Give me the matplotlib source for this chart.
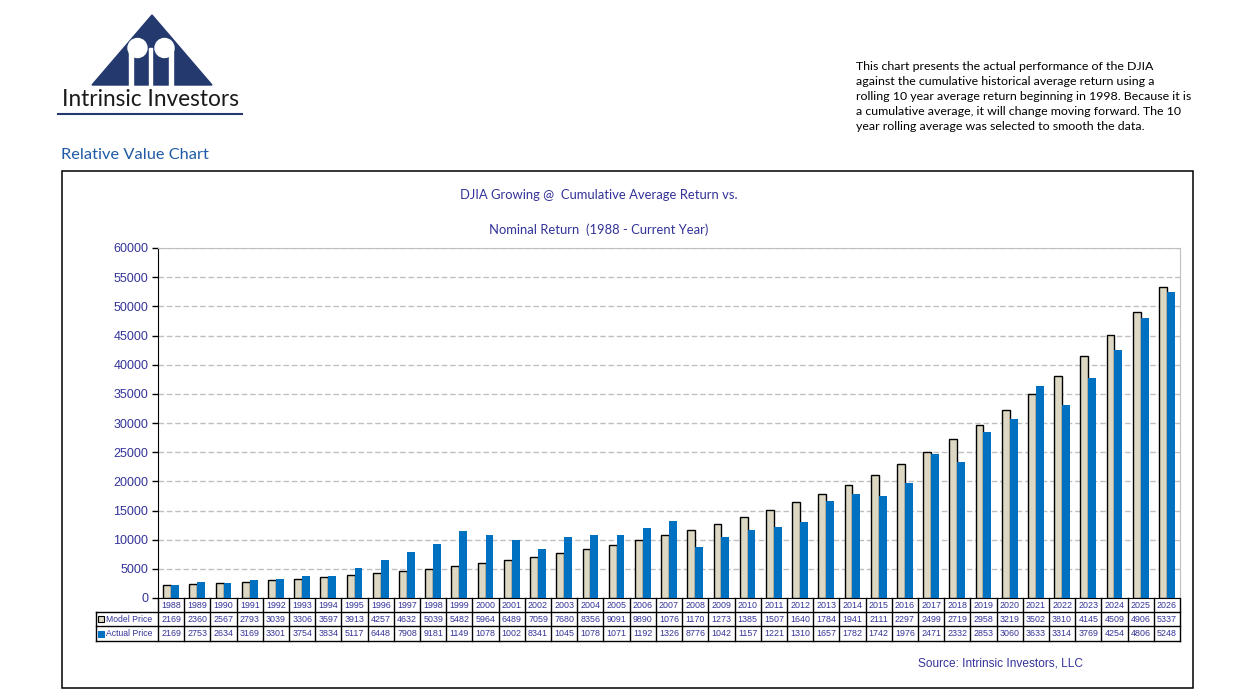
import matplotlib.pyplot as plt
import matplotlib.transforms as mtransforms
from matplotlib.patches import Polygon, Ellipse, Rectangle

years = list(range(1988, 2027))

model_price = [2169, 2360, 2567, 2793, 3039, 3306, 3597, 3913, 4257, 4632,
               5039, 5482, 5964, 6489, 7059, 7680, 8356, 9091, 9890, 10762,
               11705, 12734, 13853, 15072, 16405, 17843, 19412, 21115, 22972, 24993,
               27194, 29583, 32191, 35024, 38103, 41452, 45095, 49063, 53372]

actual_price = [2169, 2753, 2634, 3169, 3301, 3754, 3834, 5117, 6448, 7908,
                9181, 11497, 10787, 10021, 8341, 10453, 10783, 10717, 11920, 13264,
                8776, 10428, 11577, 12217, 13104, 16576, 17823, 17425, 19762, 24719,
                23327, 28538, 30606, 36338, 33147, 37690, 42544, 48068, 52480]

yticks = list(range(0, 60001, 5000))

title_lines = ["DJIA Growing @  Cumulative Average Return vs.",
               "Nominal Return  (1988 - Current Year)"]
note = ("This chart presents the actual performance of the DJIA\n"
        "against the cumulative historical average return using a\n"
        "rolling 10 year average return beginning in 1998. Because it is\n"
        "a cumulative average, it will change moving forward. The 10\n"
        "year rolling average was selected to smooth the data.")

W, H = 1247, 700
BEIGE = "#ddd8c4"
BLUE = "#0070c0"
TXT = "#333399"
NAVY = "#243a6e"


def fx(px):
    return px / W


def fy(py):
    return 1 - py / H


fig = plt.figure(figsize=(W / 100, H / 100), dpi=100)

# logo: triangle with two round dots and gaps between the stems
tri = Polygon([(fx(92), fy(85)), (fx(152), fy(15)), (fx(212), fy(85))],
              closed=True, transform=fig.transFigure, color=NAVY)
fig.patches.append(tri)
for cx in (137.5, 164.5):
    fig.patches.append(Ellipse((fx(cx), fy(48)), 19 / W, 19 / H,
                               transform=fig.transFigure, color="white"))
for x0, x1 in ((128.5, 132.5), (149, 152), (168.5, 172.5)):
    fig.patches.append(Rectangle((fx(x0), fy(86)), (x1 - x0) / W, 38 / H,
                                 transform=fig.transFigure, color="white"))
fig.text(fx(62), fy(100), "Intrinsic Investors", fontsize=16.3, family="Lato",
         color="#1a1a1a", va="center", ha="left")
fig.add_artist(plt.Line2D([fx(58), fx(242)], [fy(114), fy(114)], color=NAVY, lw=1.5))

fig.text(fx(61), fy(155), "Relative Value Chart", fontsize=11.8, family="Lato",
         color="#1f5aa6", va="center", ha="left")

fig.text(fx(856), fy(61), note, fontsize=8.9, family="Lato", color="black",
         va="top", ha="left", linespacing=1.44)

# chart frame
fig.patches.append(Rectangle((fx(62), fy(688)), (1193 - 62) / W, (688 - 171) / H,
                             transform=fig.transFigure, fill=False, ec="black", lw=1.1))

fig.text(fx(599), fy(195), title_lines[0], fontsize=9.4, family="Lato", color=TXT,
         ha="center", va="center")
fig.text(fx(599), fy(230), title_lines[1], fontsize=9.4, family="Lato", color=TXT,
         ha="center", va="center")
fig.text(fx(1001), fy(663), "Source: Intrinsic Investors, LLC", fontsize=8.6,
         family="Liberation Sans", color=TXT, ha="center", va="center")

ax = fig.add_axes([fx(158), fy(598), 1022 / W, 350 / H])
x = list(range(len(years)))
bw = 0.3
ax.bar([i - bw / 2 for i in x], model_price, width=bw, color=BEIGE,
       edgecolor="black", linewidth=1, zorder=3)
ax.bar([i + bw / 2 for i in x], actual_price, width=bw, color=BLUE,
       linewidth=0, zorder=3)

ax.set_xlim(-0.5, len(years) - 0.5)
ax.set_ylim(0, 60000)
ax.set_yticks(yticks)
ax.set_yticklabels([str(v) for v in yticks], fontsize=9, family="Liberation Sans",
                   color=TXT)
ax.tick_params(axis="y", length=4, width=1, pad=3, color="black")
ax.set_xticks([])
ax.yaxis.grid(True, linestyle=(0, (4, 2)), color="#c0c0c0", lw=1, zorder=0)
ax.set_axisbelow(True)
for side in ("top", "right"):
    ax.spines[side].set_color("#c0c0c0")
ax.spines["left"].set_color("black")
ax.spines["bottom"].set_color("black")

# data table under the plot
tr = mtransforms.blended_transform_factory(ax.transData, ax.transAxes)
rows = [0, -14 / 350, -28 / 350, -43 / 350]
xl = -0.5 - 62 / 1022 * len(years)
xr = len(years) - 0.5
for yv in rows[1:]:
    ax.plot([xl, xr], [yv, yv], color="black", lw=1, transform=tr, clip_on=False)
for b in range(len(years) + 1):
    ax.plot([b - 0.5, b - 0.5], [rows[0], rows[3]], color="black", lw=1,
            transform=tr, clip_on=False)
ax.plot([xl, xl], [rows[1], rows[3]], color="black", lw=1, transform=tr, clip_on=False)

tfs = 6.4
for i, yr in enumerate(years):
    ax.text(i, (rows[0] + rows[1]) / 2, str(yr), transform=tr, ha="center",
            va="center", fontsize=tfs, family="Liberation Sans", color=TXT)
    ax.text(i, (rows[1] + rows[2]) / 2, str(model_price[i])[:4], transform=tr,
            ha="center", va="center", fontsize=tfs, family="Liberation Sans", color=TXT)
    ax.text(i, (rows[2] + rows[3]) / 2, str(actual_price[i])[:4], transform=tr,
            ha="center", va="center", fontsize=tfs, family="Liberation Sans", color=TXT)

labels = ["Model Price", "Actual Price"]
for k, (lab, col, ec) in enumerate(zip(labels, [BEIGE, BLUE], ["black", BLUE])):
    yc = (rows[k + 1] + rows[k + 2]) / 2
    ax.plot([xl + 0.2], [yc], marker="s", ms=4.5, mfc=col, mec=ec, mew=0.8,
            transform=tr, clip_on=False)
    ax.text(xl + 0.38, yc, lab, transform=tr, ha="left", va="center",
            fontsize=6.2, family="Liberation Sans", color=TXT)

fig.savefig("out.png", dpi=100)
